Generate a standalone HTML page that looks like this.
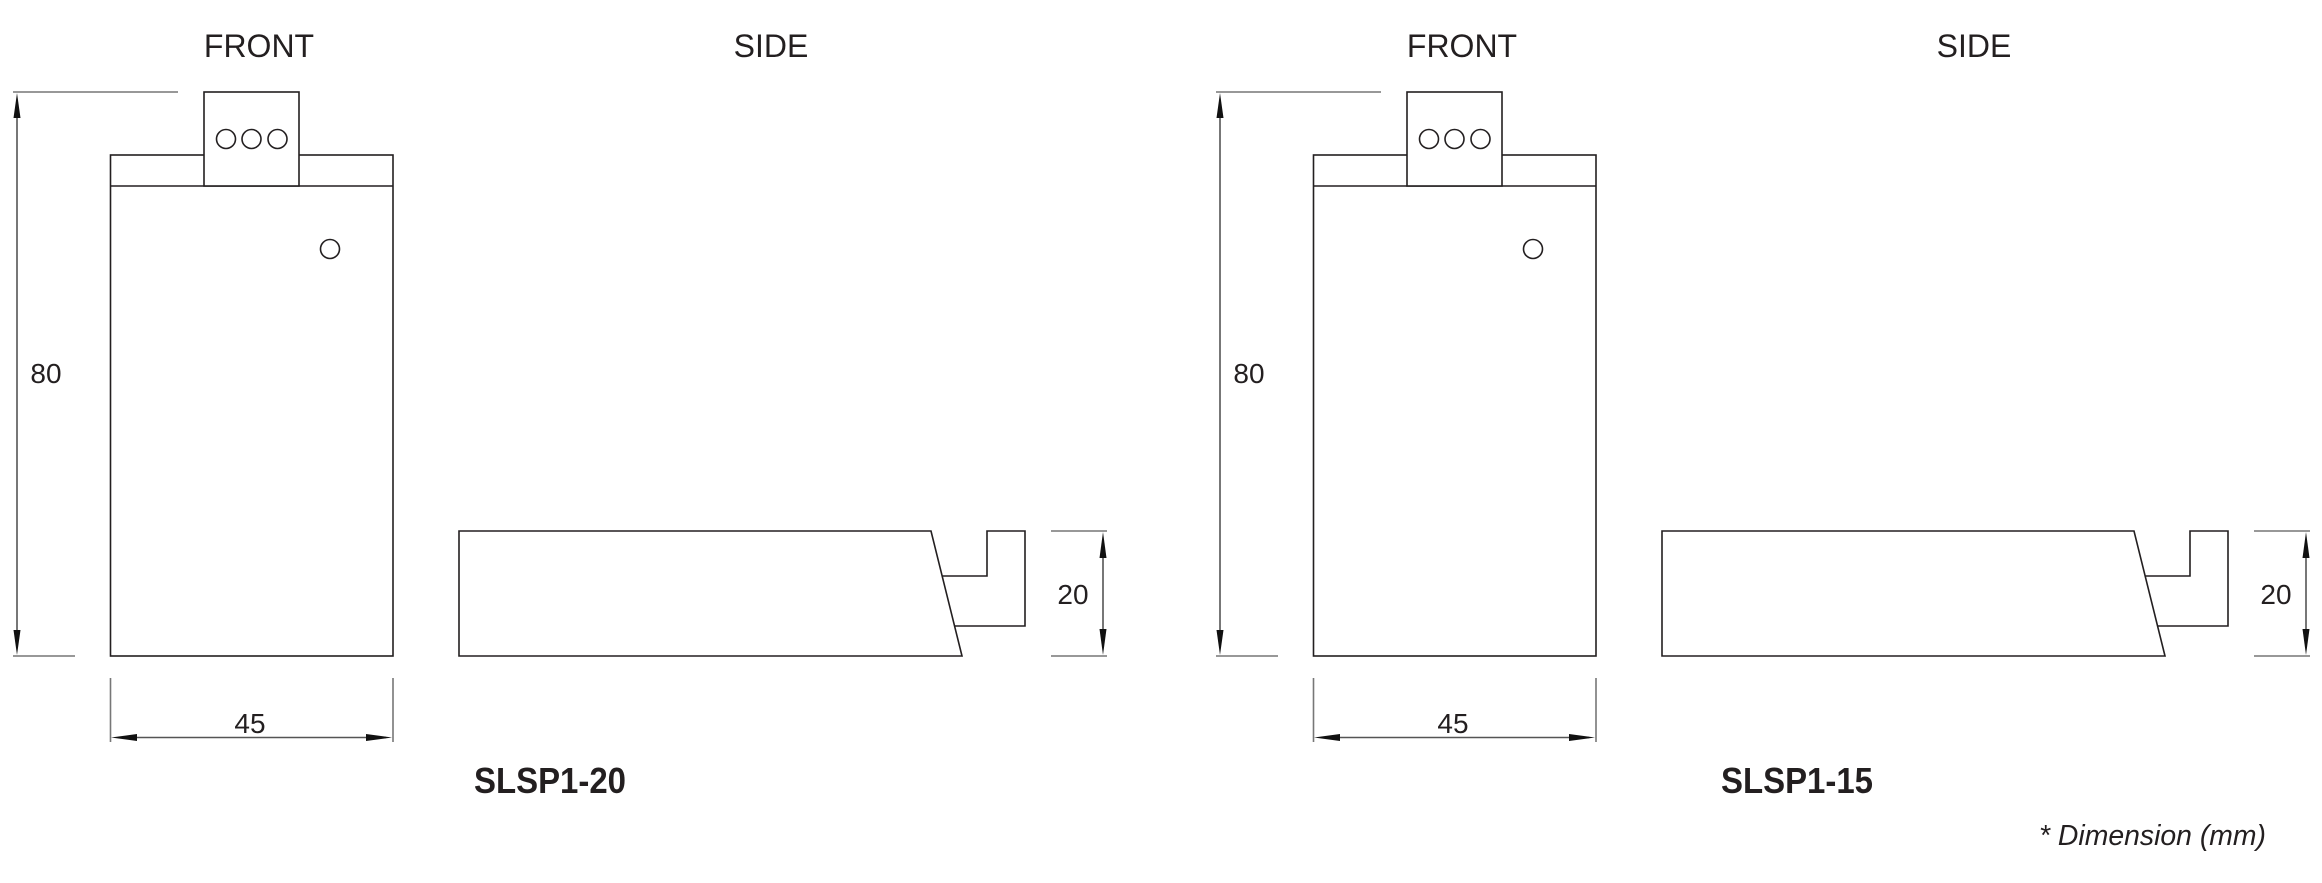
<!DOCTYPE html>
<html><head><meta charset="utf-8"><style>
html,body{margin:0;padding:0;background:#fff;}
svg{display:block;}
text{font-family:"Liberation Sans",Arial,sans-serif;fill:#231f20;}
</style></head><body>
<svg width="2322" height="883" viewBox="0 0 2322 883" xmlns="http://www.w3.org/2000/svg">
<defs>
<g id="set" fill="none" stroke="#231f20" stroke-width="1.6">
  <text x="259" y="57" font-size="32" text-anchor="middle" stroke="none">FRONT</text>
  <text x="771" y="57" font-size="32" text-anchor="middle" stroke="none">SIDE</text>
  <!-- 80 dimension -->
  <line x1="13" y1="92" x2="178" y2="92" stroke="#777"/>
  <line x1="13" y1="656" x2="75" y2="656" stroke="#777"/>
  <line x1="17" y1="100" x2="17" y2="648" stroke="#555"/>
  <polygon points="17,93 13.5,118 20.5,118" fill="#111" stroke="none"/>
  <polygon points="17,655 13.5,630 20.5,630" fill="#111" stroke="none"/>
  <text x="46" y="383" font-size="28" text-anchor="middle" stroke="none">80</text>
  <!-- front body -->
  <rect x="110.5" y="155" width="282.5" height="501"/>
  <line x1="110.5" y1="186" x2="393" y2="186"/>
  <rect x="204" y="92" width="95" height="94" fill="#fff"/>
  <circle cx="226" cy="139" r="9.5"/>
  <circle cx="251.5" cy="139" r="9.5"/>
  <circle cx="277.5" cy="139" r="9.5"/>
  <circle cx="330" cy="249" r="9.5"/>
  <!-- 45 dimension -->
  <line x1="110.5" y1="678" x2="110.5" y2="742" stroke="#777"/>
  <line x1="393" y1="678" x2="393" y2="742" stroke="#777"/>
  <line x1="118" y1="737.5" x2="386" y2="737.5" stroke="#555"/>
  <polygon points="111,737.5 137,734 137,741" fill="#111" stroke="none"/>
  <polygon points="392,737.5 366,734 366,741" fill="#111" stroke="none"/>
  <text x="250" y="733" font-size="28" text-anchor="middle" stroke="none">45</text>
  <!-- side -->
  <polygon points="459,531 931,531 962,656 459,656"/>
  <polyline points="942,576 987,576 987,531 1025,531 1025,626 955,626"/>
  <line x1="1051" y1="531" x2="1107" y2="531" stroke="#777"/>
  <line x1="1051" y1="656" x2="1107" y2="656" stroke="#777"/>
  <line x1="1103" y1="540" x2="1103" y2="648" stroke="#555"/>
  <polygon points="1103,532 1099.5,558 1106.5,558" fill="#111" stroke="none"/>
  <polygon points="1103,655 1099.5,629 1106.5,629" fill="#111" stroke="none"/>
  <text x="1073" y="604" font-size="28" text-anchor="middle" stroke="none">20</text>
</g>
</defs>
<use href="#set"/>
<use href="#set" x="1203"/>
<text x="474" y="793" font-size="36" font-weight="bold" textLength="152" lengthAdjust="spacingAndGlyphs">SLSP1-20</text>
<text x="1721" y="793" font-size="36" font-weight="bold" textLength="152" lengthAdjust="spacingAndGlyphs">SLSP1-15</text>
<text x="2039" y="845" font-size="29" font-style="italic" textLength="227" lengthAdjust="spacingAndGlyphs">* Dimension (mm)</text>
</svg>
</body></html>
